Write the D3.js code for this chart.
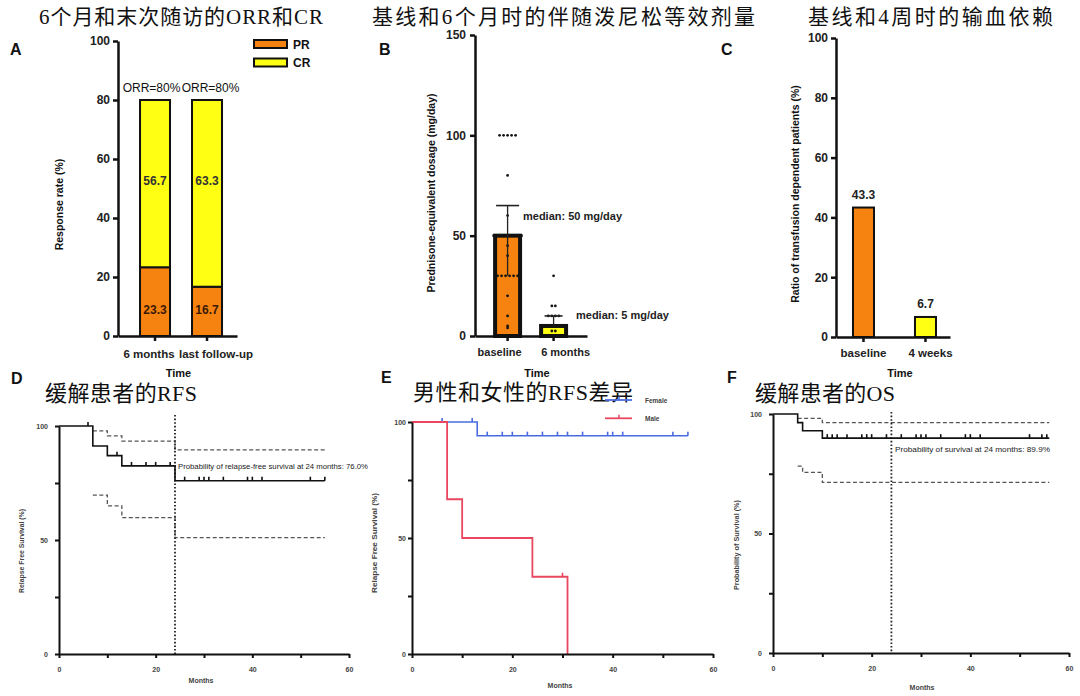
<!DOCTYPE html>
<html><head><meta charset="utf-8">
<script src="https://cdn.jsdelivr.net/npm/d3@7"></script>
<style>body{margin:0;background:#fff}svg{display:block}</style>
</head><body><svg id="c" width="1080" height="696"></svg>
<script>
// ---------------- DATA ----------------
// Panel A
const aCategories = ["6 months", "last follow-up"];
const aPR = [23.3, 16.7];
const aCR = [56.7, 63.3];
const aORR = ["ORR=80%", "ORR=80%"];
const aYTicks = [0, 20, 40, 60, 80, 100];
const aLegend = ["PR", "CR"];
// Panel B
const bCategories = ["baseline", "6 months"];
const bMedian = [50, 5];
const bErrLow = [30, 5];
const bErrHigh = [65, 10];
const bPointsBaseline = [100,100,100,100,100,80,60,50,50,50,50,50,50,50,50,45,40,30,30,30,30,30,30,20,10,5,4];
const bPoints6m = [30,15,15,10,10,10,10,5,5,5,5,5,5,5,2.5,2.5,0,0,0,0,0,0];
const bYTicks = [0, 50, 100, 150];
const bMedianLabels = ["median: 50 mg/day", "median: 5 mg/day"];
// Panel C
const cCategories = ["baseline", "4 weeks"];
const cValues = [43.3, 6.7];
const cYTicks = [0, 20, 40, 60, 80, 100];
// KM axes
const kmXTicks = [0, 10, 20, 30, 40, 50, 60];
const kmXLabels = [0, 20, 40, 60];
const kmYTicks = [0, 25, 50, 75, 100];
const kmYLabels = [0, 50, 100];
// Panel D (RFS)
const dTimes = [0, 7, 10, 13, 24];
const dSurv = [100, 91.2, 87.0, 82.5, 76.0];
const dUpperTimes = [7, 10, 13, 24];
const dUpper = [97.9, 95.7, 93.4, 89.5];
const dLowerTimes = [7, 10, 13, 24];
const dLower = [69.7, 65.0, 59.8, 51.0];
const dEnd = 55;
const dCensor = [6, 12, 15, 18, 20, 23, 26, 29, 30, 31, 34, 39, 40, 42, 52, 55];
// Panel E (RFS by sex)
const eFemaleTimes = [0, 13];
const eFemale = [100, 94.1];
const eFemaleEnd = 55;
const eFemaleCensor = [6, 12, 15, 18, 20, 23, 26, 29, 31, 34, 39, 40, 42, 52, 55];
const eMaleTimes = [0, 7, 10, 24, 31];
const eMale = [100, 66.7, 50, 33.3, 0];
const eMaleEnd = 31;
const eMaleCensor = [30];
const eLegend = ["Female", "Male"];
// Panel F (OS)
const fTimes = [0, 5, 6, 10];
const fSurv = [100, 96.4, 93.0, 89.9];
const fUpperTimes = [5, 10];
const fUpper = [98.2, 96.4];
const fLowerTimes = [5, 6, 10];
const fLower = [78.2, 75.6, 71.4];
const fEnd = 56;
const fCensor = [11, 12, 13, 15, 18, 19, 20, 23, 26, 29, 30, 31, 34, 39, 40, 42, 52, 54.5, 55.5];

// ---------------- STYLE ----------------
const ORANGE = "#F6830F", YELLOW = "#FFFF14", BLUE = "#4A6BE0", RED = "#E8475F";
const SANS = '"Liberation Sans", Arial, sans-serif';
const TITLE = '"Liberation Serif", "Noto Sans CJK SC", serif';
const svg = d3.select("#c");
svg.append("rect").attr("width", 1080).attr("height", 696).attr("fill", "#fff");

function title(x0, x1, y, txt, size) {
  svg.append("text").attr("x", x0).attr("y", y).attr("font-family", TITLE)
    .attr("font-size", size).attr("fill", "#111")
    .attr("textLength", x1 - x0).attr("lengthAdjust", "spacing").text(txt);
}
function letter(x, y, t) {
  svg.append("text").attr("x", x).attr("y", y).attr("font-family", SANS)
    .attr("font-weight", "bold").attr("font-size", 16).attr("fill", "#111").text(t);
}
function txt(g, x, y, t, size, opts = {}) {
  const e = g.append("text").attr("x", x).attr("y", y).attr("font-family", SANS)
    .attr("font-size", size).attr("font-weight", opts.weight || "bold")
    .attr("fill", opts.fill || "#111").attr("text-anchor", opts.anchor || "middle").text(t);
  if (opts.rotate) e.attr("transform", `rotate(-90,${x},${y})`).attr("dominant-baseline", "central");
  if (opts.len) e.attr("textLength", opts.len).attr("lengthAdjust", "spacingAndGlyphs");
  return e;
}
function styleTop(g) {
  g.select(".domain").attr("stroke", "#111").attr("stroke-width", 2.5);
  g.selectAll(".tick line").attr("stroke", "#111").attr("stroke-width", 2.5);
  g.selectAll(".tick text").attr("font-family", SANS).attr("font-weight", "bold")
    .attr("font-size", 12).attr("fill", "#222");
}
function styleKM(g) {
  g.select(".domain").attr("stroke", "#111").attr("stroke-width", 2);
  g.selectAll(".tick line").attr("stroke", "#111").attr("stroke-width", 2);
  g.selectAll(".tick text").attr("font-family", SANS).attr("font-weight", "bold")
    .attr("font-size", 7).attr("fill", "#444");
}

// ---------------- TITLES ----------------
title(39, 323, 24, "6个月和末次随访的ORR和CR", 21);
title(372, 755, 24, "基线和6个月时的伴随泼尼松等效剂量", 21);
title(808, 1053, 24, "基线和4周时的输血依赖", 21);
title(45, 197, 401, "缓解患者的RFS", 22);
title(413, 633, 399.5, "男性和女性的RFS差异", 22);
title(755, 895, 401, "缓解患者的OS", 22);
letter(10, 55, "A"); letter(379, 55, "B"); letter(721, 55, "C");
letter(11, 384, "D"); letter(381, 383, "E"); letter(727, 383, "F");

// ---------------- PANEL A ----------------
{
  const g = svg.append("g");
  const y = d3.scaleLinear().domain([0, 100]).range([336, 41]);
  const x = d3.scaleBand().domain(aCategories).range([118, 237])
    .paddingInner(0.423).paddingOuter(0.356).align(0.595);
  g.selectAll("rect.pr").data(aCategories).join("rect")
    .attr("x", d => x(d)).attr("width", x.bandwidth())
    .attr("y", (d, i) => y(aPR[i])).attr("height", (d, i) => y(0) - y(aPR[i]))
    .attr("fill", ORANGE).attr("stroke", "#111").attr("stroke-width", 2);
  g.selectAll("rect.cr").data(aCategories).join("rect")
    .attr("x", d => x(d)).attr("width", x.bandwidth())
    .attr("y", (d, i) => y(aPR[i] + aCR[i])).attr("height", (d, i) => y(aPR[i]) - y(aPR[i] + aCR[i]))
    .attr("fill", YELLOW).attr("stroke", "#111").attr("stroke-width", 2);
  aCategories.forEach((c, i) => {
    const cx = x(c) + x.bandwidth() / 2;
    txt(g, cx, y(52.5) + 4, aCR[i].toFixed(1), 12, { fill: "#333" });
    txt(g, cx, y(8.8) + 4, aPR[i].toFixed(1), 12, { fill: "#3a1a05" });
    txt(g, cx + (i === 0 ? -3.5 : 3.5), y(aPR[i] + aCR[i]) - 8, aORR[i], 12, { weight: "normal" });
  });
  const ya = g.append("g").attr("transform", "translate(118,0)")
    .call(d3.axisLeft(y).tickValues(aYTicks).tickSize(5).tickSizeOuter(0).tickPadding(3));
  styleTop(ya);
  const xa = g.append("g").attr("transform", "translate(0,336)")
    .call(d3.axisBottom(x).tickSize(5).tickSizeOuter(0).tickPadding(9));
  styleTop(xa);
  xa.selectAll(".tick text").attr("font-size", 11.5).attr("dx", (d, i) => i === 0 ? -6 : 9);
  txt(g, 178.5, 377, "Time", 11);
  txt(g, 59, 204.5, "Response rate (%)", 10.5, { rotate: true });
  // legend
  [ORANGE, YELLOW].forEach((col, i) => {
    g.append("rect").attr("x", 254).attr("y", 40 + i * 18.5).attr("width", 33).attr("height", 8)
      .attr("fill", col).attr("stroke", "#111").attr("stroke-width", 2);
    txt(g, 293, 48.5 + i * 18.5, aLegend[i], 12, { anchor: "start" });
  });
}

// ---------------- PANEL B ----------------
{
  const g = svg.append("g");
  const y = d3.scaleLinear().domain([0, 150]).range([336, 35]);
  const x = d3.scaleBand().domain(bCategories).range([475, 587])
    .paddingInner(0.457).paddingOuter(0.446).align(0.49);
  const fills = [ORANGE, YELLOW];
  g.selectAll("rect.bar").data(bCategories).join("rect")
    .attr("x", d => x(d)).attr("width", x.bandwidth())
    .attr("y", (d, i) => y(bMedian[i])).attr("height", (d, i) => y(0) - y(bMedian[i]))
    .attr("fill", (d, i) => fills[i]).attr("stroke", "#111").attr("stroke-width", 4);
  function swarm(vals, spacing) {
    const counts = d3.rollup(vals, v => v.length, d => d);
    const idx = new Map();
    return vals.map(v => {
      const n = counts.get(v), i = idx.get(v) || 0; idx.set(v, i + 1);
      return { v, off: (i - (n - 1) / 2) * spacing };
    });
  }
  [bPointsBaseline, bPoints6m].forEach((pts, k) => {
    const cx = x(bCategories[k]) + x.bandwidth() / 2;
    g.selectAll(null).data(swarm(pts, k === 0 ? 4 : 3.5)).join("circle")
      .attr("cx", d => cx + d.off).attr("cy", d => y(d.v)).attr("r", 1.4).attr("fill", "#151515");
    const capW = k === 0 ? 23 : 18;
    g.append("line").attr("x1", cx).attr("x2", cx).attr("y1", y(bErrLow[k])).attr("y2", y(bErrHigh[k]))
      .attr("stroke", "#222").attr("stroke-width", 1.3);
    g.append("line").attr("x1", cx - capW / 2).attr("x2", cx + capW / 2)
      .attr("y1", y(bErrHigh[k])).attr("y2", y(bErrHigh[k])).attr("stroke", "#222").attr("stroke-width", 1.6);
  });
  txt(g, 523, y(bMedian[0]) - 16, bMedianLabels[0], 11, { anchor: "start", fill: "#222" });
  txt(g, 576, y(bMedian[1]) - 7, bMedianLabels[1], 11, { anchor: "start", fill: "#222" });
  const ya = g.append("g").attr("transform", "translate(475,0)")
    .call(d3.axisLeft(y).tickValues(bYTicks).tickSize(5).tickSizeOuter(0).tickPadding(4));
  styleTop(ya);
  const xa = g.append("g").attr("transform", "translate(0,336)")
    .call(d3.axisBottom(x).tickSize(5).tickSizeOuter(0).tickPadding(7));
  styleTop(xa);
  xa.selectAll(".tick text").attr("font-size", 11).attr("dx", (d, i) => i === 0 ? -8 : 12);
  txt(g, 537, 377, "Time", 11);
  txt(g, 431, 193, "Prednisone-equivalent dosage (mg/day)", 10.5, { rotate: true });
}

// ---------------- PANEL C ----------------
{
  const g = svg.append("g");
  const y = d3.scaleLinear().domain([0, 100]).range([337, 38]);
  const x = d3.scaleBand().domain(cCategories).range([836, 950])
    .paddingInner(0.661).paddingOuter(0.25).align(0.548);
  const fills = [ORANGE, YELLOW];
  g.selectAll("rect.bar").data(cCategories).join("rect")
    .attr("x", d => x(d)).attr("width", x.bandwidth())
    .attr("y", (d, i) => y(cValues[i])).attr("height", (d, i) => y(0) - y(cValues[i]))
    .attr("fill", (d, i) => fills[i]).attr("stroke", "#111").attr("stroke-width", 2);
  cCategories.forEach((c, i) => {
    txt(g, x(c) + x.bandwidth() / 2, y(cValues[i]) - 9, cValues[i].toFixed(1), 12, { fill: "#222" });
  });
  const ya = g.append("g").attr("transform", "translate(836,0)")
    .call(d3.axisLeft(y).tickValues(cYTicks).tickSize(5).tickSizeOuter(0).tickPadding(3));
  styleTop(ya);
  const xa = g.append("g").attr("transform", "translate(0,337)")
    .call(d3.axisBottom(x).tickSize(5).tickSizeOuter(0).tickPadding(7));
  styleTop(xa);
  xa.selectAll(".tick text").attr("font-size", 11.5).attr("dx", (d, i) => i === 0 ? 0 : 5);
  txt(g, 900, 377, "Time", 11);
  txt(g, 795, 194, "Ratio of transfusion dependent patients (%)", 10.5, { rotate: true });
}

// ---------------- KM helpers ----------------
function stepPts(times, vals, end) {
  const p = times.map((t, i) => [t, vals[i]]);
  p.push([end, vals[vals.length - 1]]);
  return p;
}
function valAt(times, vals, t) {
  let v = vals[0];
  times.forEach((tt, i) => { if (tt <= t) v = vals[i]; });
  return v;
}
function kmPanel(cfg) {
  const g = svg.append("g");
  const x = d3.scaleLinear().domain([0, 60]).range([cfg.x0, cfg.x60]);
  const y = d3.scaleLinear().domain([0, 100]).range([cfg.y0, cfg.y100]);
  const line = d3.line().x(d => x(d[0])).y(d => y(d[1])).curve(d3.curveStepAfter);
  (cfg.ci || []).forEach(c => {
    g.append("path").attr("d", line(stepPts(c.t, c.v, c.end))).attr("fill", "none")
      .attr("stroke", "#555").attr("stroke-width", 1.3).attr("stroke-dasharray", "4,2.5");
  });
  if (cfg.vline != null) {
    g.append("line").attr("x1", x(cfg.vline)).attr("x2", x(cfg.vline))
      .attr("y1", cfg.vTop).attr("y2", cfg.y0).attr("stroke", "#222")
      .attr("stroke-width", 1.8).attr("stroke-dasharray", "1.6,2");
  }
  cfg.series.forEach(s => {
    g.append("path").attr("d", line(stepPts(s.t, s.v, s.end))).attr("fill", "none")
      .attr("stroke", s.color).attr("stroke-width", s.w || 1.6);
    g.selectAll(null).data(s.censor).join("line")
      .attr("x1", d => x(d)).attr("x2", d => x(d))
      .attr("y1", d => y(valAt(s.t, s.v, d))).attr("y2", d => y(valAt(s.t, s.v, d)) - 4)
      .attr("stroke", s.color).attr("stroke-width", 1.6);
  });
  const ya = g.append("g").attr("transform", `translate(${cfg.x0},0)`)
    .call(d3.axisLeft(y).tickValues(kmYTicks).tickSize(4).tickSizeOuter(0).tickPadding(cfg.yPad)
      .tickFormat(d => kmYLabels.includes(d) ? d : ""));
  styleKM(ya);
  const xa = g.append("g").attr("transform", `translate(0,${cfg.y0})`)
    .call(d3.axisBottom(x).tickValues(kmXTicks).tickSize(4).tickSizeOuter(0).tickPadding(9)
      .tickFormat(d => kmXLabels.includes(d) ? d : ""));
  styleKM(xa);
  txt(g, cfg.monthsX, cfg.monthsY, "Months", 7, { fill: "#444" });
  txt(g, cfg.ylabX, cfg.ylabY, cfg.ylab, 6.8, { rotate: true, fill: "#444", len: cfg.ylabLen });
  if (cfg.note) txt(g, cfg.note.x, cfg.note.y, cfg.note.t, 7, { anchor: "start", weight: "normal", fill: "#222", len: cfg.note.len });
  return { g, x, y };
}

// ---------------- PANEL D ----------------
kmPanel({
  x0: 59, x60: 349, y0: 654, y100: 426, yPad: 7,
  ci: [{ t: dUpperTimes, v: dUpper, end: dEnd }, { t: dLowerTimes, v: dLower, end: dEnd }],
  vline: 24, vTop: 415,
  series: [{ t: dTimes, v: dSurv, end: dEnd, censor: dCensor, color: "#111" }],
  monthsX: 201, monthsY: 683, ylabX: 21, ylabY: 551, ylab: "Relapse Free Survival  (%)", ylabLen: 84,
  note: { x: 178, y: 469, t: "Probability of relapse-free survival at 24 months: 76.0%", len: 190 }
});

// ---------------- PANEL E ----------------
{
  const p = kmPanel({
    x0: 412, x60: 713, y0: 654, y100: 422, yPad: 2,
    series: [
      { t: eFemaleTimes, v: eFemale, end: eFemaleEnd, censor: eFemaleCensor, color: BLUE },
      { t: eMaleTimes, v: eMale, end: eMaleEnd, censor: eMaleCensor, color: RED, w: 1.8 }
    ],
    monthsX: 560, monthsY: 688, ylabX: 374, ylabY: 543, ylab: "Relapse Free Survival  (%)", ylabLen: 100
  });
  [BLUE, RED].forEach((col, i) => {
    const yy = 400 + i * 18.3;
    p.g.append("line").attr("x1", 605).attr("x2", 632).attr("y1", yy).attr("y2", yy)
      .attr("stroke", col).attr("stroke-width", 1.8);
    p.g.append("line").attr("x1", 619).attr("x2", 619).attr("y1", yy).attr("y2", yy - 3.5)
      .attr("stroke", col).attr("stroke-width", 1.5);
    txt(p.g, 645, yy + 2.5, eLegend[i], 6.5, { anchor: "start", fill: "#444" });
  });
}

// ---------------- PANEL F ----------------
kmPanel({
  x0: 773, x60: 1069, y0: 653, y100: 414, yPad: 7,
  ci: [{ t: fUpperTimes, v: fUpper, end: fEnd }, { t: fLowerTimes, v: fLower, end: fEnd }],
  vline: 24, vTop: 412,
  series: [{ t: fTimes, v: fSurv, end: fEnd, censor: fCensor, color: "#111" }],
  monthsX: 922, monthsY: 690, ylabX: 736, ylabY: 545, ylab: "Probability of Survival  (%)", ylabLen: 90,
  note: { x: 895, y: 451.5, t: "Probability of survival at 24 months: 89.9%", len: 155 }
});
</script></body></html>
